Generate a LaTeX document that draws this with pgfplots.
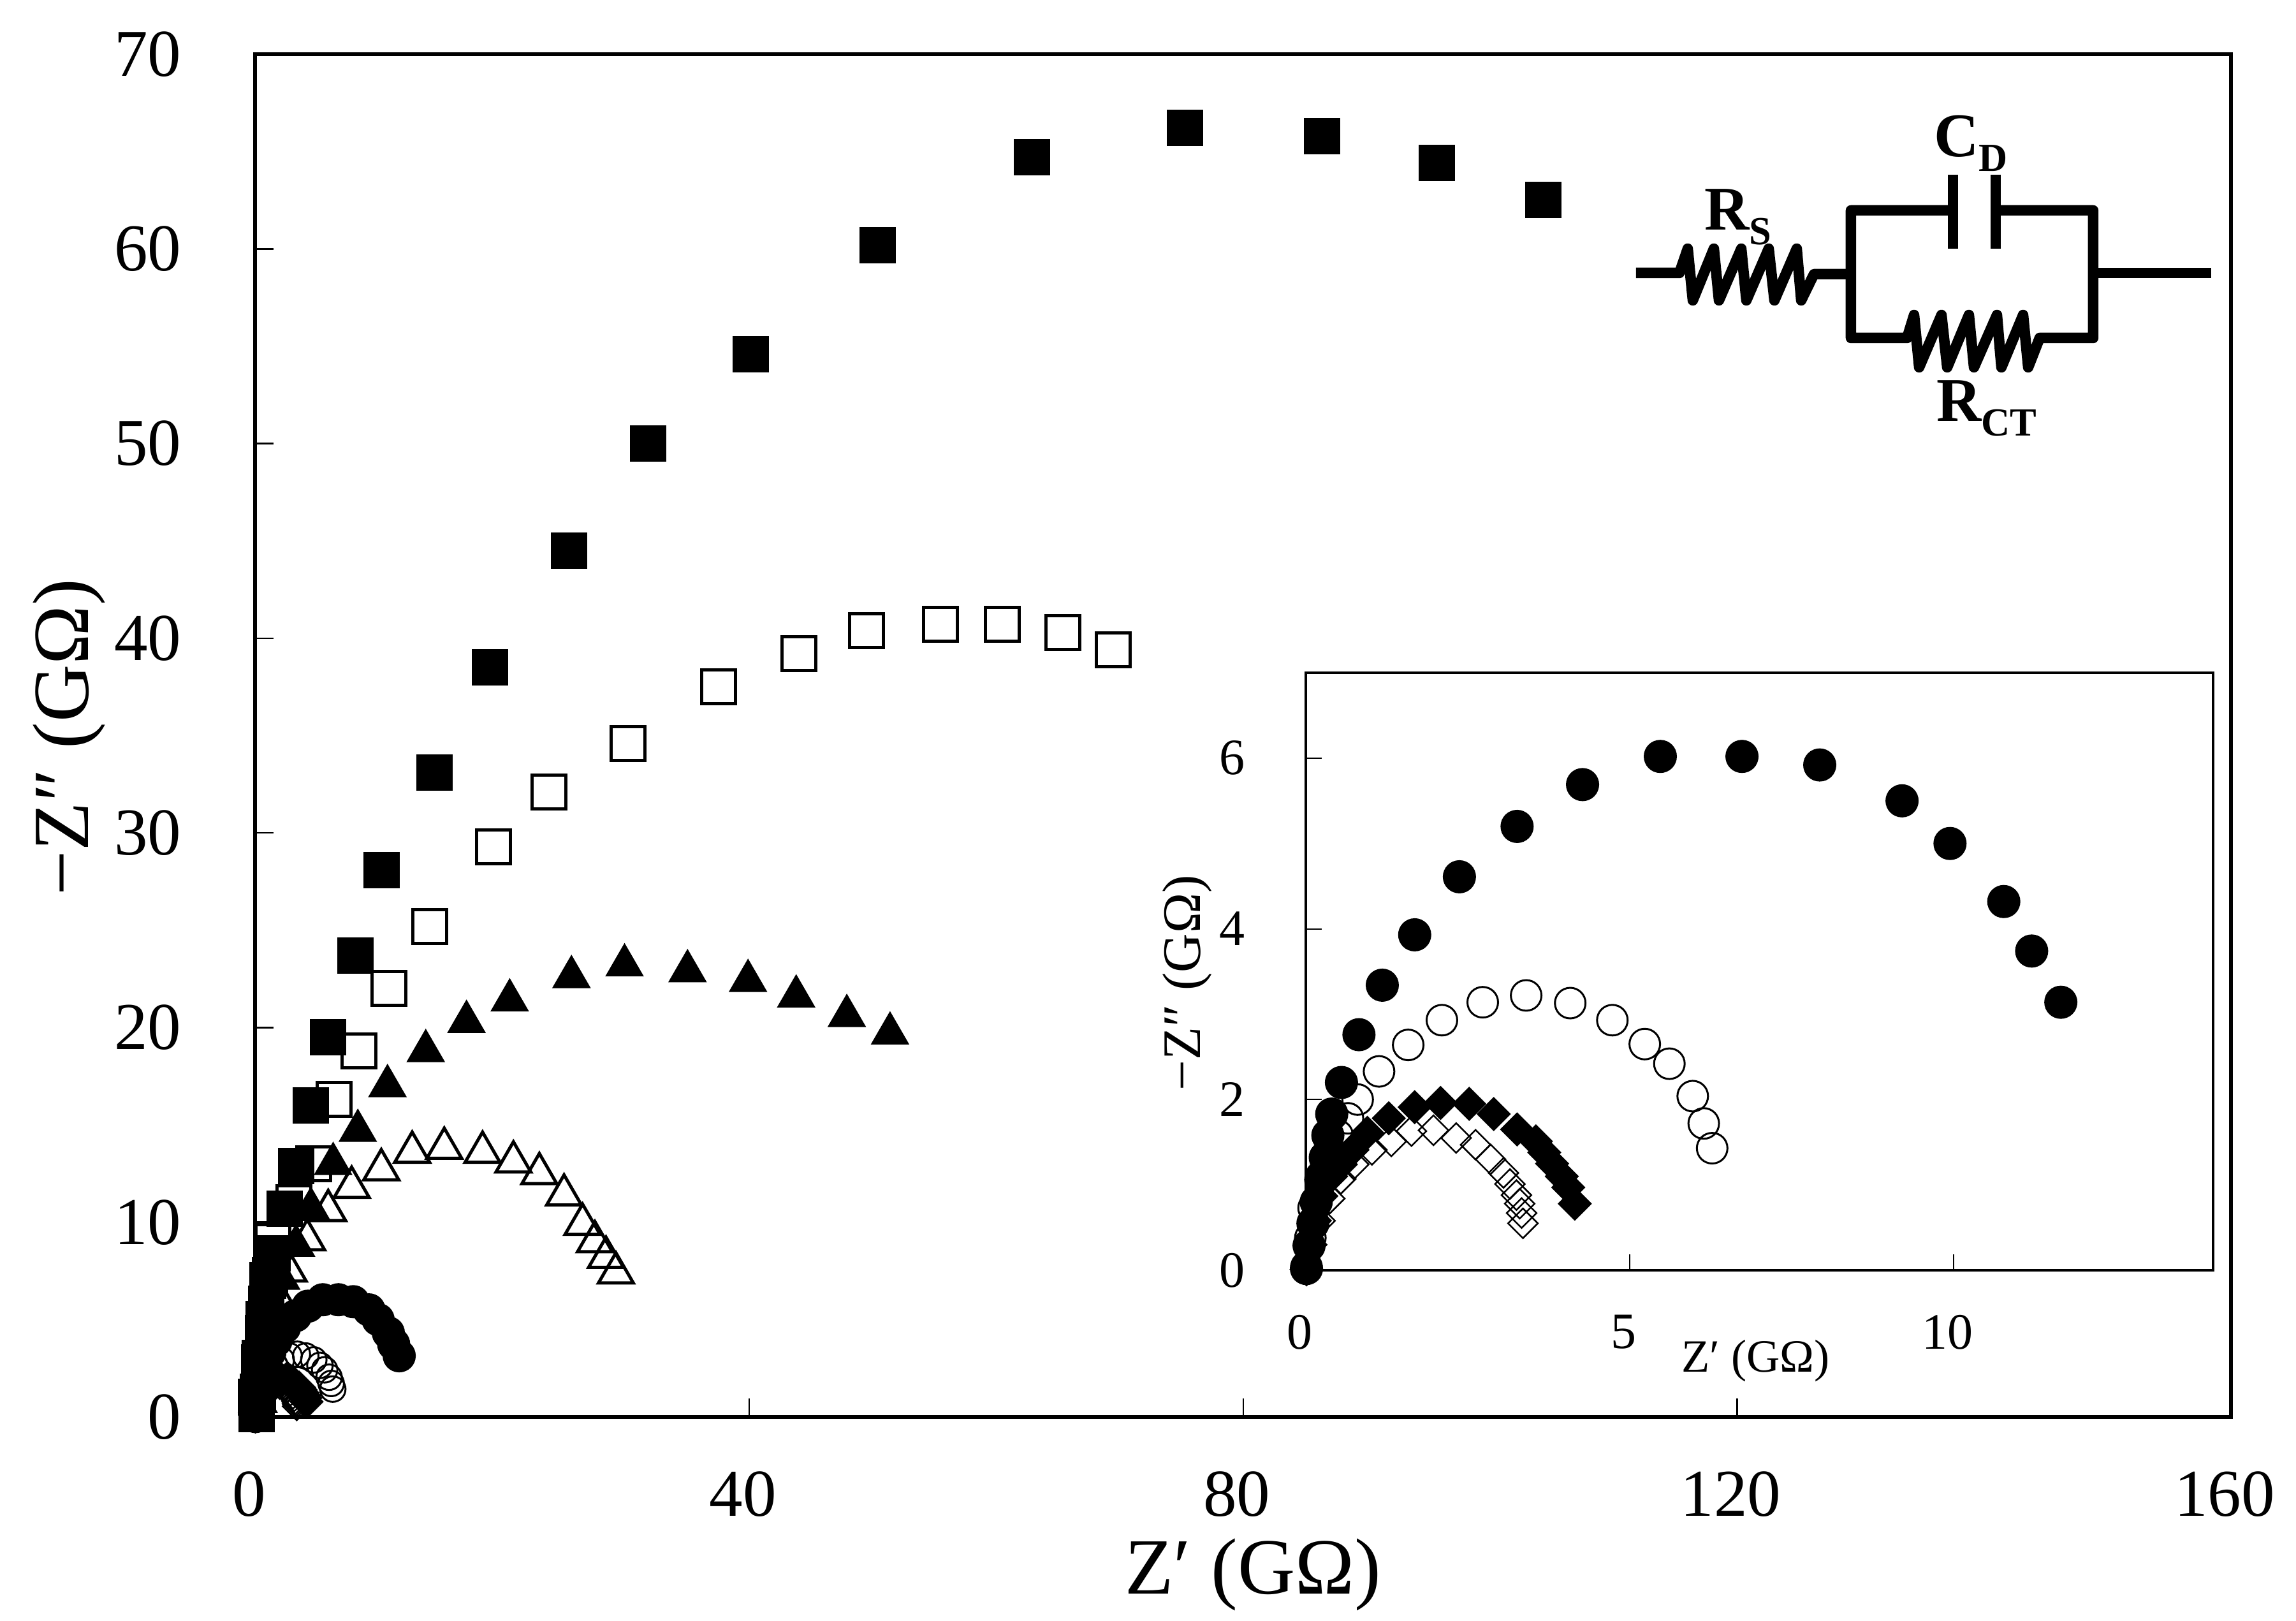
\documentclass[border=0pt]{standalone}
\usepackage{fontspec}
\setmainfont{Liberation Serif}
\usepackage{pgfplots}
\usepackage{pgfplotstable}
\pgfplotsset{compat=1.18}
\newcommand{\circlab}[2]{{\fontsize{19.5}{19.5}\selectfont\bfseries #1}\raisebox{-4.6pt}{\fontsize{12.5}{12.5}\selectfont\bfseries #2}}
\pgfplotstableread{
x y
104.3 62.5
95.7 64.4
86.4 65.8
75.3 66.2
62.9 64.7
50.4 60.2
40.1 54.6
31.8 50.0
25.4 44.5
19.0 38.5
14.5 33.1
10.2 28.1
8.1 23.7
5.9 19.5
4.5 16.0
3.3 12.9
2.4 10.7
1.4 8.4
1.2 7.3
0.9 5.8
0.6 4.3
0.3 2.8
0.2 1.3
0.1 0.15
}\fsq
\pgfplotstableread{
x y
69.5 39.4
65.4 40.3
60.5 40.7
55.5 40.7
49.5 40.4
44.0 39.2
37.5 37.5
30.2 34.6
23.8 32.1
19.3 29.3
14.1 25.2
10.8 22.0
8.4 18.8
6.4 16.3
4.7 13.0
3.1 11.0
1.4 9.0
1.0 7.0
0.7 5.0
0.4 3.0
0.1 1.0
}\osq
\pgfplotstableread{
x y
51.4 19.7
47.9 20.6
43.8 21.6
39.9 22.4
35.0 22.9
29.9 23.2
25.6 22.6
20.6 21.4
17.1 20.3
13.8 18.8
10.7 17.0
8.3 14.7
6.3 13.0
4.5 10.7
3.3 8.8
2.1 7.1
1.4 5.6
0.9 3.8
0.5 2.3
0.2 0.8
}\ftri
\pgfplotstableread{
x y
29.2 7.4
28.4 8.2
27.5 9.0
26.5 9.9
25.0 11.4
23.0 12.5
20.9 13.1
18.4 13.6
15.3 13.8
12.7 13.6
10.2 12.7
7.8 11.8
5.9 10.6
4.2 9.1
2.7 7.5
1.9 6.0
1.2 4.3
0.6 2.6
0.2 0.8
}\otri
\pgfplotstableread{
x y
11.65 3.14
11.2 3.74
10.77 4.32
9.94 5.0
9.2 5.5
7.93 5.92
6.73 6.02
5.47 6.02
4.27 5.69
3.26 5.2
2.37 4.61
1.68 3.93
1.18 3.34
0.82 2.76
0.55 2.2
0.40 1.83
0.34 1.58
0.3 1.32
0.23 1.06
0.16 0.8
0.11 0.55
0.05 0.29
0.01 0.02
}\fcirc
\pgfplotstableread{
x y
6.27 1.43
6.14 1.72
5.97 2.04
5.61 2.42
5.23 2.65
4.73 2.93
4.08 3.13
3.40 3.22
2.73 3.14
2.10 2.93
1.58 2.64
1.13 2.33
0.80 2.0
0.65 1.78
0.49 1.58
0.37 1.28
0.24 1.1
0.12 0.73
0.07 0.38
0.01 0.04
}\ocirc
\pgfplotstableread{
x y
4.15 0.78
4.05 0.97
3.95 1.1
3.8 1.25
3.68 1.38
3.55 1.51
3.26 1.65
2.90 1.83
2.52 1.95
2.08 1.96
1.68 1.91
1.28 1.78
0.95 1.61
0.72 1.41
0.54 1.24
0.39 1.1
0.24 0.87
0.14 0.58
0.07 0.3
0.01 0.01
}\fdia
\pgfplotstableread{
x y
3.35 0.55
3.33 0.67
3.30 0.78
3.25 0.88
3.15 1.01
3.05 1.14
2.85 1.30
2.62 1.47
2.32 1.55
1.97 1.64
1.63 1.63
1.32 1.51
1.02 1.41
0.74 1.24
0.54 1.07
0.37 0.84
0.22 0.58
0.09 0.3
0.01 0.02
}\odia
\begin{document}
\begin{tikzpicture}
\path[use as bounding box] (0pt,0pt) rectangle (720.2pt,508.4pt);
\begin{axis}[
  at={(80.1pt,64pt)}, anchor=south west,
  scale only axis, width=619.7pt, height=427.4pt,
  xmin=0, xmax=160, ymin=0, ymax=70,
  xtick={0,40,80,120,160}, ytick={0,10,20,30,40,50,60,70},
  tick align=inside, tick pos=left, major tick length=5.7pt,
  tick style={line width=0.5pt,black},
  axis line style={line width=1.2pt},
  clip=false,
  /pgf/number format/assume math mode=true,
  tick label style={inner sep=0pt,font=\fontsize{21}{21}\selectfont},
  xticklabel shift=17pt, yticklabel shift=23pt,
  xticklabel style={xshift=-2pt},
  xlabel={Z′ (GΩ)}, ylabel={−Z″ (GΩ)},
  label style={font=\fontsize{25}{25}\selectfont},
  x label style={at={(axis description cs:0.505,-0.1297)},anchor=base},
  y label style={at={(axis description cs:-0.0846,0.4986)},anchor=base},
]
\addplot[only marks,mark=square,mark size=3.1pt,mark options={rotate=45,draw=black,line width=0.5pt}] table {\odia};
\addplot[only marks,mark=o,mark size=4pt,mark options={draw=black,line width=0.6pt}] table {\ocirc};
\addplot[only marks,mark=square*,mark size=3.6pt,mark options={rotate=45,fill=black,draw=black}] table {\fdia};
\addplot[only marks,mark=*,mark size=5pt,mark options={fill=black,draw=black}] table {\fcirc};
\addplot[only marks,mark=square,mark size=5.3pt,mark options={draw=black,line width=1pt}] table {\osq};
\addplot[only marks,mark=triangle,mark size=6.3pt,mark options={draw=black,line width=1pt}] table {\otri};
\addplot[only marks,mark=triangle*,mark size=6.6pt,mark options={fill=black,draw=black}] table {\ftri};
\addplot[only marks,mark=square*,mark size=5.5pt,mark options={fill=black,draw=black}] table {\fsq};
\end{axis}
\begin{axis}[
  at={(409.6pt,110pt)}, anchor=south west,
  scale only axis, width=284.6pt, height=187.4pt,
  xmin=0, xmax=14, ymin=0, ymax=7,
  xtick={0,5,10}, ytick={0,2,4,6},
  tick align=inside, tick pos=left, major tick length=5pt,
  tick style={line width=0.4pt,black},
  axis line style={line width=0.9pt},
  axis background/.style={fill=white},
  clip=false,
  /pgf/number format/assume math mode=true,
  tick label style={inner sep=0pt,font=\fontsize{16}{16}\selectfont},
  xticklabel shift=13.8pt, yticklabel shift=19pt,
  xticklabel style={xshift=-2pt},
  xlabel={Z′ (GΩ)}, ylabel={−Z″ (GΩ)},
  x label style={font=\fontsize{14.5}{14.5}\selectfont,at={(axis description cs:0.4958,-0.170)},anchor=base},
  y label style={font=\fontsize{17}{17}\selectfont,at={(axis description cs:-0.116,0.481)},anchor=base},
]
\addplot[only marks,mark=o,mark size=4.8pt,mark options={draw=black,line width=0.6pt}] table {\ocirc};
\addplot[only marks,mark=square,mark size=3.3pt,mark options={rotate=45,draw=black,line width=0.5pt}] table {\odia};
\addplot[only marks,mark=square*,mark size=3.6pt,mark options={rotate=45,fill=black,draw=black}] table {\fdia};
\addplot[only marks,mark=*,mark size=5pt,mark options={fill=black,draw=black}] table {\fcirc};
\end{axis}
\begin{scope}[shift={(0pt,508.4pt)},x=0.2pt,y=-0.2pt,line width=3.3pt,line join=round]
\draw (2566,428)--(2634,428)--(2647,390)--(2655,471)--(2688,390)--(2696,471)--(2731,390)--(2739,471)--(2774,390)--(2783,471)--(2818,390)--(2825,471)--(2845,430)--(2903,430);
\draw (3063,330)--(2903,330)--(2903,530)--(2991,530)--(3002,494)--(3010,576)--(3045,494)--(3054,576)--(3088,494)--(3096,576)--(3132,494)--(3139,576)--(3173,494)--(3181,576)--(3199,530)--(3283,530)--(3283,330)--(3130,330);
\draw (3063,274)--(3063,390);
\draw (3130,274)--(3130,390);
\draw (3283,428)--(3468,428);
\node[inner sep=0pt] at (2726,340) {\circlab{R}{S}};
\node[inner sep=0pt] at (3091,225) {\circlab{C}{D}};
\node[inner sep=0pt] at (3116,640) {\circlab{R}{CT}};
\end{scope}
\end{tikzpicture}
\end{document}
